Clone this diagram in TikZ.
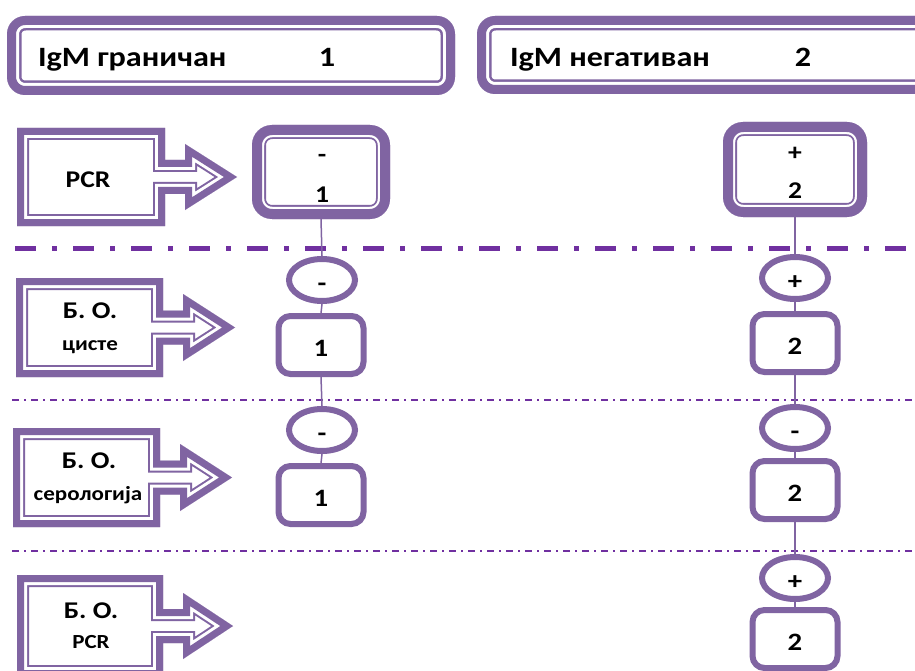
\documentclass[tikz,border=0pt]{standalone}
\usepackage{fontspec}
\setmainfont{Carlito}[FakeStretch=1.15]
\usetikzlibrary{shapes.geometric}
\definecolor{edge}{HTML}{8064A2}
\definecolor{sep}{HTML}{7030A0}

% thick-thin compound outline drawn inside the given path:
% #1 outer band, #2 white gap, #3 thin inner line, #4 the path
\newcommand\compoundline[4]{%
  \begin{scope}
    \clip #4;
    \draw[edge, line width={2*(#1+#2+#3)}] #4;
    \draw[white, line width={2*(#1+#2)}] #4;
    \draw[edge, line width={2*#1}] #4;
  \end{scope}}

\tikzset{
  every node/.style={inner sep=0pt, outer sep=0pt},
  hdr/.style={font=\fontsize{28}{30}\selectfont\bfseries},
  big/.style={font=\fontsize{24}{26}\selectfont\bfseries},
  small/.style={font=\fontsize{20}{22}\selectfont\bfseries},
  valfont/.style={font=\fontsize{25}{27}\selectfont\bfseries,
    text height=23pt, text depth=0pt},
  oval/.style={ellipse, draw=edge, line width=6pt, fill=white,
    minimum width=66pt, minimum height=42pt, outer sep=3pt, valfont},
  valbox/.style={rectangle, rounded corners=12pt, draw=edge, line width=6pt,
    fill=white, minimum width=85pt, minimum height=58pt, outer sep=3pt, valfont},
  link/.style={edge, line width=1.5pt},
  majorsep/.style={sep, line width=5pt, dash pattern=on 21pt off 16pt on 5pt off 16pt},
  minorsep/.style={sep, line width=1.8pt, dash pattern=on 7pt off 5pt on 2pt off 5pt},
}

\begin{document}
\begin{tikzpicture}[x=1pt, y=-1pt]
\useasboundingbox (0,0) rectangle (915,671);
\fill[white] (0,0) rectangle (915,671);
\clip (0,0) rectangle (915,671);

% row separators
\draw[majorsep] (15,248) -- (915,248);
\draw[minorsep] (12,400) -- (915,400);
\draw[minorsep] (12,551) -- (915,551);

% header boxes
\node[minimum width=448pt, minimum height=79pt] (h1) at (231,55.5) {};
\compoundline{9}{3}{2.5}{[rounded corners=18pt] (h1.north west) rectangle (h1.south east)}
\node[hdr, anchor=base west] (h1t) at (38,67) {IgM граничан};
\node[hdr, anchor=base] (h1n) at (327,67) {1};

\node[minimum width=463pt, minimum height=78pt] (h2) at (708.5,55) {};
\compoundline{9}{3}{2.5}{[rounded corners=18pt] (h2.north west) rectangle (h2.south east)}
\node[hdr, anchor=base west] (h2t) at (510,67) {IgM негативан};
\node[hdr, anchor=base] (h2n) at (803,67) {2};

% arrow callouts on the left
\compoundline{7}{3}{2}{(17,128) -- (165,128) -- (165,160) -- (185,160) -- (185,144) -- (237,177) -- (185,210) -- (185,194) -- (165,194) -- (165,226) -- (17,226) -- cycle}
\node[big, anchor=base] (a1) at (88,188) {PCR};

\compoundline{7}{3}{2}{(16,278) -- (163,278) -- (163,310.5) -- (183,310.5) -- (183,294) -- (235,327.5) -- (183,361) -- (183,344.5) -- (163,344.5) -- (163,377) -- (16,377) -- cycle}
\node[big, anchor=base] (a2) at (90,318) {Б. О.};
\node[small, anchor=base] (a2s) at (90,350) {цисте};

\compoundline{7}{3}{2}{(13,428) -- (160,428) -- (160,460.5) -- (180,460.5) -- (180,444) -- (232,477.5) -- (180,511) -- (180,494.5) -- (160,494.5) -- (160,527) -- (13,527) -- cycle}
\node[big, anchor=base] (a3) at (89,468) {Б. О.};
\node[small, anchor=base] (a3s) at (88,500) {серологија};

\compoundline{7}{3}{2}{(17,575) -- (163,575) -- (163,609) -- (183,609) -- (183,593) -- (233,626) -- (183,659) -- (183,643) -- (163,643) -- (163,677) -- (17,677) -- cycle}
\node[big, anchor=base] (a4) at (91,618) {Б. О.};
\node[small, anchor=base] (a4s) at (91,648) {PCR};

% PCR result boxes
\node[minimum width=138pt, minimum height=94pt] (p1) at (321,172) {};
\compoundline{10}{2.2}{1.8}{[rounded corners=20pt] (p1.north west) rectangle (p1.south east)}
\node[big] (p1s) at (322,158) {-};
\node[big, anchor=base] (p1n) at (322,202) {1};

\node[minimum width=144pt, minimum height=95pt] (p2) at (795,169.5) {};
\compoundline{10}{2.2}{1.8}{[rounded corners=20pt] (p2.north west) rectangle (p2.south east)}
\node[big] (p2s) at (795,154) {+};
\node[big, anchor=base] (p2n) at (795,198) {2};

% left column
\node[oval] (l1) at (322,280) {-};
\node[valbox] (l2) at (321,345) {1};
\node[oval] (l3) at (322,430) {-};
\node[valbox] (l4) at (321,495) {1};

% right column
\node[oval] (r1) at (795,278) {+};
\node[valbox] (r2) at (795,343) {2};
\node[oval] (r3) at (795,428) {-};
\node[valbox] (r4) at (795,490) {2};
\node[oval] (r5) at (795,578) {+};
\node[valbox] (r6) at (795,639) {2};

% connectors
\draw[link] (p1.south) -- (l1.north);
\draw[link] (l1.south) -- (l2.north);
\draw[link] (l2.south) -- (l3.north);
\draw[link] (l3.south) -- (l4.north);
\draw[link] (p2.south) -- (r1.north);
\draw[link] (r1.south) -- (r2.north);
\draw[link] (r2.south) -- (r3.north);
\draw[link] (r3.south) -- (r4.north);
\draw[link] (r4.south) -- (r5.north);
\draw[link] (r5.south) -- (r6.north);
\end{tikzpicture}
\end{document}
